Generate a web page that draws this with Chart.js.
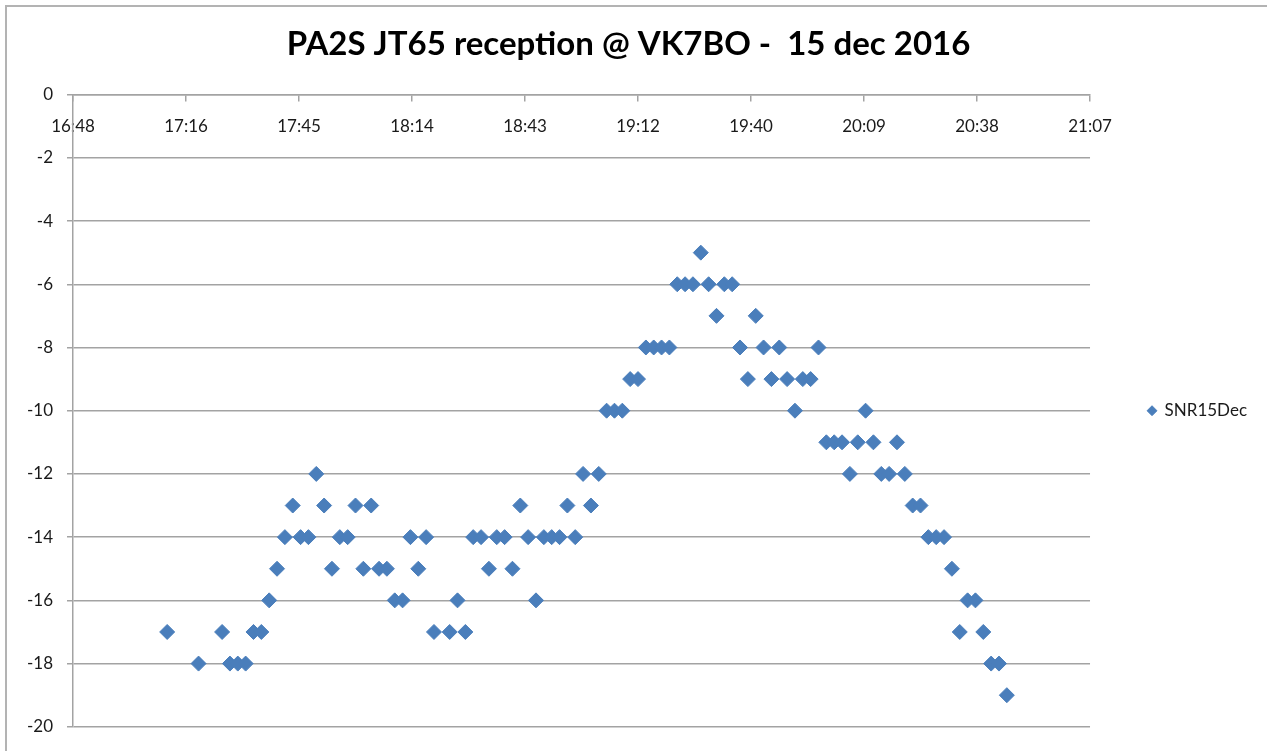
<!DOCTYPE html>
<html>
<head>
<meta charset="utf-8">
<script src="https://cdn.jsdelivr.net/npm/chart.js@4/dist/chart.umd.min.js"></script>
<style>
  html, body { margin: 0; padding: 0; background: #fff; overflow: hidden; }
  #wrap { position: relative; width: 1267px; height: 751px; }
  #frame { position: absolute; left: 5px; top: 5px; width: 1400px; height: 900px;
           border: 2px solid #b3b3b3; pointer-events: none; }
  canvas { position: absolute; left: 0; top: 0; }
</style>
</head>
<body>
<div id="wrap">
  <canvas id="myChart" width="1267" height="751"></canvas>
  <div id="frame"></div>
</div>
<script>
// reception times (UTC) and SNR in dB
var times = [
  '17:12', '17:20', '17:26', '17:28', '17:30', '17:32', '17:34', '17:36', '17:38', '17:40',
  '17:42', '17:44', '17:46', '17:48', '17:50', '17:52', '17:54', '17:56', '17:58', '18:00',
  '18:02', '18:04', '18:06', '18:08', '18:10', '18:12', '18:14', '18:16', '18:18', '18:20',
  '18:24', '18:26', '18:28', '18:30', '18:32', '18:34', '18:36', '18:38', '18:40', '18:42',
  '18:44', '18:46', '18:48', '18:50', '18:52', '18:54', '18:56', '18:58', '19:00', '19:02',
  '19:04', '19:06', '19:08', '19:10', '19:12', '19:14', '19:16', '19:18', '19:20', '19:22',
  '19:24', '19:26', '19:28', '19:30', '19:32', '19:34', '19:36', '19:38', '19:40', '19:42',
  '19:44', '19:46', '19:48', '19:50', '19:52', '19:54', '19:56', '19:58', '20:00', '20:02',
  '20:04', '20:06', '20:08', '20:10', '20:12', '20:14', '20:16', '20:18', '20:20', '20:22',
  '20:24', '20:26', '20:28', '20:30', '20:32', '20:34', '20:36', '20:38', '20:40', '20:42',
  '20:44', '20:46'
];
var snr15Dec = [
  -17, -18, -17, -18, -18, -18, -17, -17, -16, -15,
  -14, -13, -14, -14, -12, -13, -15, -14, -14, -13,
  -15, -13, -15, -15, -16, -16, -14, -15, -14, -17,
  -17, -16, -17, -14, -14, -15, -14, -14, -15, -13,
  -14, -16, -14, -14, -14, -13, -14, -12, -13, -12,
  -10, -10, -10, -9, -9, -8, -8, -8, -8, -6,
  -6, -6, -5, -6, -7, -6, -6, -8, -9, -7,
  -8, -9, -8, -9, -10, -9, -9, -8, -11, -11,
  -11, -12, -11, -10, -11, -12, -12, -11, -12, -13,
  -13, -14, -14, -14, -15, -17, -16, -16, -17, -18,
  -18, -19
];

// axis range in Excel day fractions (16:48 .. 21:07), step 0.02 day
var xMin = 0.70, xMax = 0.88, xStep = 0.02;
var yMin = -20, yMax = 0, yStep = 2;

function dayFrac(t) {
    var p = t.split(':');
    return (parseInt(p[0], 10) * 60 + parseInt(p[1], 10)) / 1440;
}

function fmtTime(v) {
    var m = Math.floor(v * 1440 + 1e-6);
    var h = Math.floor(m / 60);
    var mm = m % 60;
    return h + ':' + (mm < 10 ? '0' : '') + mm;
}

var points = times.map(function (t, i) {
    return { x: dayFrac(t), y: snr15Dec[i] };
});

var gridColor = '#a3a3a3';
var blue = '#4a7ebb';

var ctx = document.getElementById('myChart').getContext('2d');

var myChart = new Chart(ctx, {
    type: 'scatter',
    data: {
        datasets: [{
            label: 'SNR15Dec',
            data: points,
            pointStyle: 'rectRot',
            pointRadius: 7.5,
            pointHoverRadius: 7.5,
            borderWidth: 1,
            backgroundColor: blue,
            borderColor: blue
        }]
    },
    options: {
        responsive: false,
        animation: false,
        layout: {
            padding: { left: 0, top: 0, right: 10, bottom: 20 }
        },
        scales: {
            x: {
                type: 'linear',
                position: { y: 0 },
                min: xMin,
                max: xMax,
                afterFit: function (scale) { scale.height = 0; },
                grid: {
                    drawOnChartArea: false,
                    drawTicks: true,
                    tickLength: 6,
                    color: gridColor,
                    lineWidth: 1.5
                },
                border: { display: true, color: gridColor, width: 1.5 },
                ticks: {
                    stepSize: xStep,
                    padding: 16,
                    maxRotation: 0,
                    autoSkip: false,
                    color: '#1a1a1a',
                    font: { family: 'Lato', size: 17 },
                    callback: function (v) { return fmtTime(v); }
                }
            },
            y: {
                min: yMin,
                max: yMax,
                afterFit: function (scale) { scale.width = 73; },
                grid: {
                    color: gridColor,
                    lineWidth: 1.5,
                    tickLength: 6
                },
                border: { display: true, color: gridColor, width: 1.5 },
                ticks: {
                    stepSize: yStep,
                    padding: 14,
                    color: '#1a1a1a',
                    font: { family: 'Lato', size: 17 }
                }
            }
        },
        plugins: {
            title: {
                display: true,
                text: 'PA2S JT65 reception @ VK7BO -  15 dec 2016',
                color: '#000',
                font: { family: 'Lato', size: 33, weight: 'bold' },
                padding: { top: 25, bottom: 30 }
            },
            legend: {
                position: 'right',
                fullSize: false,
                labels: {
                    usePointStyle: true,
                    boxWidth: 8,
                    boxHeight: 7,
                    padding: 58,
                    color: '#1a1a1a',
                    font: { family: 'Lato', size: 17 }
                }
            },
            tooltip: { enabled: false }
        }
    }
});
</script>
</body>
</html>
